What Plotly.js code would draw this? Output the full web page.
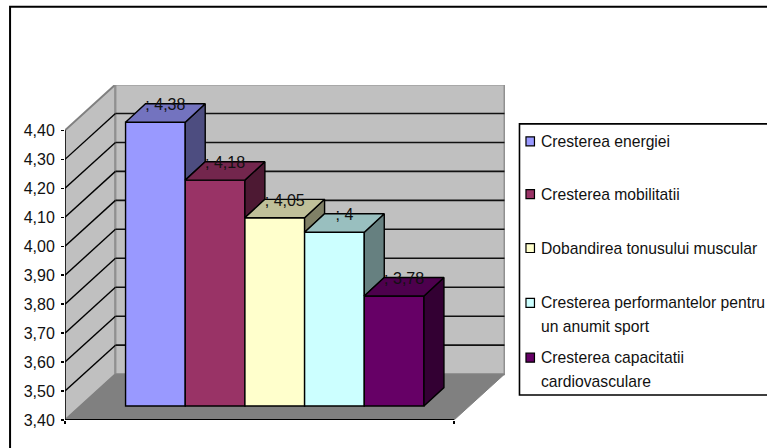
<!DOCTYPE html>
<html><head><meta charset="utf-8">
<script src="https://cdn.plot.ly/plotly-3.0.1.min.js"></script>
<style>html,body{margin:0;padding:0;background:#fff;overflow:hidden}#c{width:767px;height:448px}</style>
</head><body><div id="c"></div>
<script>
const categories=["Cresterea energiei","Cresterea mobilitatii","Dobandirea tonusului muscular","Cresterea performantelor pentru<br>un anumit sport","Cresterea capacitatii<br>cardiovasculare"];
const values=[4.38,4.18,4.05,4.00,3.78];
const labels=["; 4,38","; 4,18","; 4,05","; 4","; 3,78"];
const frontColors=["#9999FF","#993366","#FFFFCC","#CCFFFF","#660066"];
const topColors=["#7373BF","#73264D","#BFBF99","#99BFBF","#4D004D"];
const sideColors=["#4D4D80","#4D1933","#808066","#668080","#330033"];
const yTicks=[3.4,3.5,3.6,3.7,3.8,3.9,4.0,4.1,4.2,4.3,4.4];

// plot box in pixels and unit sizes
const L=64.5,R=505,T=84.5,B=420.5,FRONT_R=454;
const UX=59.75,UY=290.5;
const X0=-(155-L)/UX;
const xAt=px=>X0+(px-L)/UX;
const WALL_DX=50.5/UX,WALL_DY=46/UY;
const BAR_DX=20/UX,BAR_DY=18.5/UY;
const BASE=3.4+14/UY;
const LABEL_DROP=2.5/UY;
const YMIN=3.4,YMAX=4.4;
const XF=xAt(FRONT_R),XL=X0,XB=X0+WALL_DX;

const traces=[];
values.forEach((v,i)=>{
  traces.push({type:'bar',x:[i],y:[v-YMIN],base:BASE,width:1,name:categories[i].replace('<br>',' '),
    marker:{color:frontColors[i],line:{color:'#000',width:1.4}},hoverinfo:'name',showlegend:false});
});
const poly=(xs,ys,c)=>({type:'scatter',mode:'lines',x:xs,y:ys,fill:'toself',fillcolor:c,line:{color:'#000',width:1.4},hoverinfo:'skip',showlegend:false});
values.forEach((v,i)=>{
  const t=v-YMIN+BASE, l=i-.5, r=i+.5;
  const nt=i<values.length-1?values[i+1]-YMIN+BASE:BASE;
  traces.push(poly([r,r+BAR_DX,r+BAR_DX,r,r],[t,t+BAR_DY,nt+BAR_DY,nt,t],sideColors[i]));
  traces.push(poly([l,l+BAR_DX,r+BAR_DX,r,l],[t,t+BAR_DY,t+BAR_DY,t,t],topColors[i]));
});
traces.push({type:'scatter',mode:'text',x:values.map((v,i)=>i+BAR_DX/2),y:values.map(v=>v-YMIN+BASE+BAR_DY-LABEL_DROP),
  text:labels,textposition:'middle center',textfont:{family:'Liberation Sans',size:16,color:'#111'},hoverinfo:'skip',showlegend:false});
// axis lines
const axisLine=(xs,ys,w)=>({type:'scatter',mode:'lines',x:xs,y:ys,line:{color:'#000',width:w},hoverinfo:'skip',showlegend:false});
traces.push(axisLine([XL,XL],[YMIN,YMAX],1.4));
traces.push(axisLine([XL,XF],[YMIN,YMIN],2));

const shapes=[];
const path=(pts)=>'M'+pts.map(p=>p.join(',')).join('L')+'Z';
// walls and floor
shapes.push({type:'path',layer:'below',xref:'x',yref:'y',path:path([[XL,YMIN],[XB,YMIN+WALL_DY],[XB,YMAX+WALL_DY],[XL,YMAX]]),fillcolor:'#C0C0C0',line:{color:'#808080',width:2}});
shapes.push({type:'path',layer:'below',xref:'x',yref:'y',path:path([[XB,YMIN+WALL_DY],[XF+WALL_DX,YMIN+WALL_DY],[XF+WALL_DX,YMAX+WALL_DY],[XB,YMAX+WALL_DY]]),fillcolor:'#C0C0C0',line:{color:'#909090',width:2}});
shapes.push({type:'path',layer:'below',xref:'x',yref:'y',path:path([[XL,YMIN],[XB,YMIN+WALL_DY],[XF+WALL_DX,YMIN+WALL_DY],[XF,YMIN]]),fillcolor:'#808080',line:{color:'#808080',width:1}});
yTicks.slice(1,-1).forEach(g=>{
  shapes.push({type:'line',layer:'below',xref:'x',yref:'y',x0:XL,y0:g,x1:XB,y1:g+WALL_DY,line:{color:'#000',width:1.4}});
  shapes.push({type:'line',layer:'below',xref:'x',yref:'y',x0:XB,y0:g+WALL_DY,x1:XF+WALL_DX,y1:g+WALL_DY,line:{color:'#111',width:1.6}});
});
// pixel helpers for chart frame and legend
const W=R-L,H=B-T;
const px=x=>(x-L)/W, py=y=>(B-y)/H;
const rect=(x0,y0,x1,y1,fill,lc,lw)=>({type:'rect',xref:'paper',yref:'paper',x0:px(x0),x1:px(x1),y0:py(y0),y1:py(y1),fillcolor:fill,line:{color:lc,width:lw}});
shapes.push(Object.assign(rect(9.5,6,790,470,'rgba(0,0,0,0)','#000',2),{layer:'below'}));
shapes.push(rect(519.5,123.5,800,395.5,'#fff','#000',1.6));
const legendY=[141,194,248,303,358];
const LINE_GAP=24;
const annotations=[];
categories.forEach((c,i)=>{
  shapes.push(rect(526,legendY[i]-4.5,534.5,legendY[i]+4.5,frontColors[i],'#000',1.2));
  c.split('<br>').forEach((line,k)=>{
    annotations.push({xref:'paper',yref:'paper',x:px(540),y:py(legendY[i]+k*LINE_GAP),xanchor:'left',yanchor:'middle',align:'left',showarrow:false,text:line,
      font:{family:'Liberation Sans',size:15.7,color:'#111'},borderpad:0,captureevents:false});
  });
});

Plotly.newPlot('c',traces,{
  width:767,height:448,margin:{l:L,r:767-R,t:T,b:448-B},paper_bgcolor:'#fff',plot_bgcolor:'rgba(0,0,0,0)',
  barmode:'overlay',showlegend:false,separators:', ',
  xaxis:{range:[X0,xAt(R)],tickmode:'array',tickvals:[XL,XF],ticktext:['',''],ticks:'outside',ticklen:3,tickcolor:'#000',tickwidth:1.4,showgrid:false,zeroline:false,showline:false,fixedrange:true},
  yaxis:{range:[YMIN,YMIN+(B-T)/UY],tickmode:'array',tickvals:yTicks,tickformat:'.2f',ticks:'outside',ticklen:3,tickcolor:'#000',tickwidth:1.4,ticklabelstandoff:3,
    tickfont:{family:'Liberation Sans',size:16,color:'#111'},showgrid:false,zeroline:false,showline:false,fixedrange:true},
  shapes,annotations
},{displayModeBar:false,staticPlot:true});
</script></body></html>
